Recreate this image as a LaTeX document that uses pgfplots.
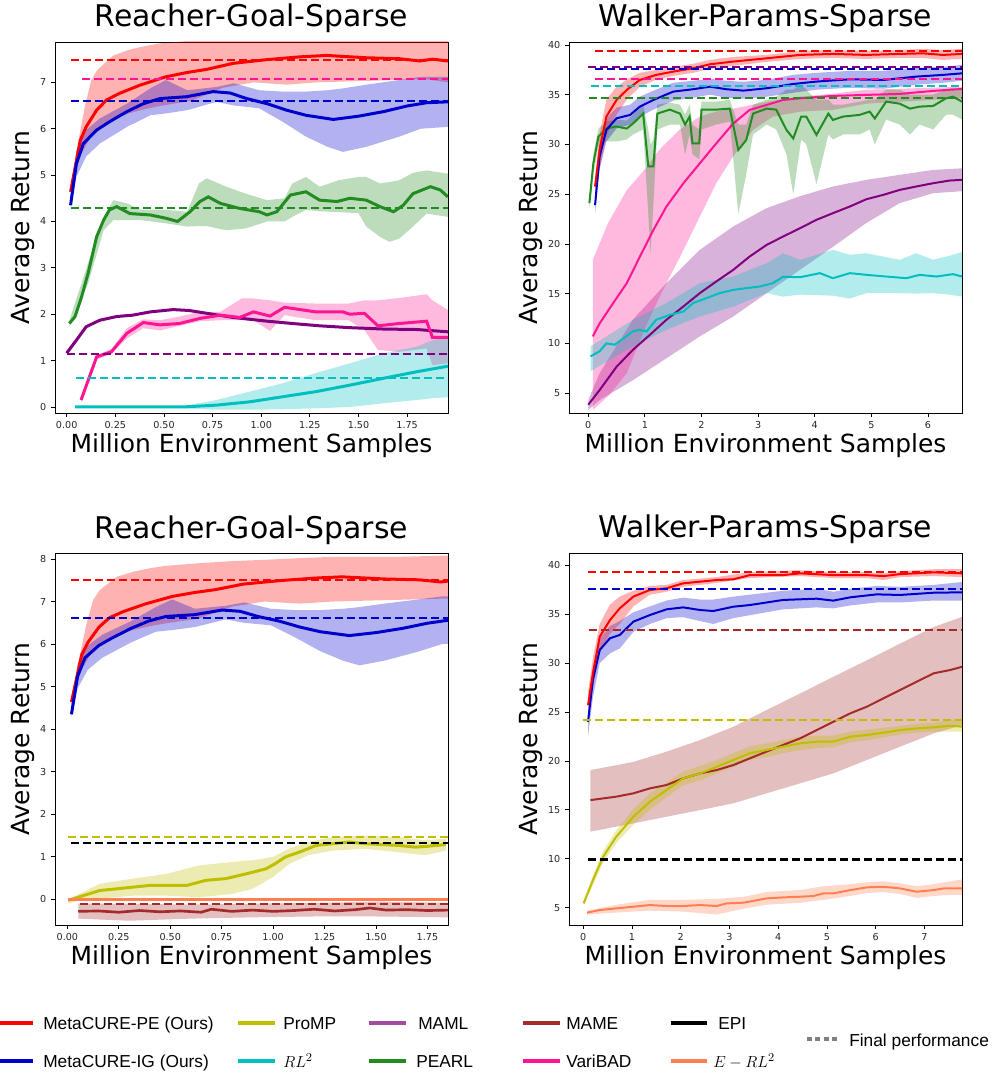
\documentclass[border=0pt]{standalone}
\usepackage{pgfplots}
\pgfplotsset{compat=1.18}
\usepackage{pgfplotstable}
\usepgfplotslibrary{fillbetween}
\usepackage{fontspec}
\setmainfont{DejaVu Sans}
\newfontfamily\legfont{Liberation Sans}

\definecolor{cred}{rgb}{1,0,0}
\definecolor{cblue}{HTML}{0000CD}
\definecolor{cgreen}{HTML}{228B22}
\definecolor{cpurple}{HTML}{800080}
\definecolor{cpink}{HTML}{FF1493}
\definecolor{ccyan}{HTML}{00BFBF}
\definecolor{cyel}{HTML}{BFBF00}
\definecolor{cbrown}{HTML}{A52A2A}
\definecolor{ccoral}{HTML}{FF7F50}
\definecolor{cmaml}{HTML}{A04DA0}

% ---------------- Reacher (shared MetaCURE curves) ----------------
\pgfplotstableread{
x y
0.02 4.64
0.05 5.3
0.07 5.75
0.10 6.04
0.154 6.4
0.205 6.62
0.27 6.76
0.377 6.94
0.51 7.12
0.616 7.21
0.72 7.28
0.856 7.41
1.03 7.49
1.2 7.55
1.335 7.58
1.54 7.53
1.71 7.51
1.815 7.46
1.88 7.5
1.96 7.46
}\rgRed
\pgfplotstableread{
x lo hi
0.02 4.55 4.75
0.05 5.1 5.5
0.07 5.4 5.95
0.094 5.6 6.49
0.126 5.85 7.04
0.158 6.0 7.27
0.24 6.2 7.58
0.32 6.33 7.7
0.4 6.42 7.78
0.48 6.49 7.84
0.64 6.6 7.9
0.8 6.88 7.95
0.96 7.0 7.98
1.13 6.95 8.02
1.29 7.0 8.05
1.61 7.04 8.05
1.84 7.07 8.08
1.96 7.0 8.08
}\rgRedB
\pgfplotstableread{
x y
0.02 4.35
0.05 5.25
0.086 5.68
0.154 5.97
0.22 6.15
0.31 6.37
0.394 6.54
0.48 6.65
0.616 6.69
0.753 6.8
0.84 6.77
0.925 6.65
1.03 6.54
1.13 6.4
1.23 6.29
1.37 6.2
1.5 6.27
1.63 6.37
1.75 6.49
1.85 6.56
1.96 6.58
}\rgBlue
\pgfplotstableread{
x lo hi
0.02 4.3 4.45
0.05 4.96 5.54
0.1 5.4 5.97
0.17 5.68 6.22
0.31 6.04 6.54
0.43 6.29 6.87
0.51 6.33 7.05
0.62 6.4 6.83
0.77 6.58 6.9
0.86 6.5 6.98
0.99 6.44 6.83
1.11 6.15 6.8
1.23 5.83 6.8
1.34 5.61 6.83
1.42 5.5 6.87
1.54 5.61 6.95
1.71 5.83 7.05
1.82 6.0 7.12
1.96 6.04 7.12
}\rgBlueB
% PEARL
\pgfplotstableread{
x y
0.014 1.8
0.043 1.95
0.077 2.38
0.11 2.88
0.154 3.67
0.19 4.03
0.22 4.25
0.257 4.32
0.325 4.17
0.43 4.14
0.51 4.07
0.57 4.0
0.634 4.21
0.685 4.43
0.728 4.53
0.79 4.39
0.89 4.28
0.99 4.21
1.03 4.14
1.08 4.21
1.15 4.57
1.23 4.64
1.3 4.46
1.39 4.43
1.455 4.5
1.54 4.46
1.61 4.32
1.68 4.21
1.73 4.35
1.78 4.6
1.87 4.75
1.92 4.68
1.96 4.53
}\rgGreen
\pgfplotstableread{
x lo hi
0.014 1.73 1.87
0.11 2.66 3.1
0.19 3.81 4.1
0.24 4.03 4.46
0.31 4.03 4.39
0.38 4.03 4.25
0.51 3.96 4.25
0.62 3.89 4.21
0.68 3.9 4.82
0.72 3.9 4.93
0.82 3.81 4.75
0.92 3.85 4.6
1.03 4.0 4.46
1.12 4.0 4.5
1.16 4.1 4.82
1.23 4.25 4.96
1.3 4.22 4.75
1.4 4.2 4.89
1.5 4.18 4.96
1.54 3.89 4.96
1.61 3.67 4.82
1.66 3.56 4.85
1.71 3.63 4.89
1.78 3.89 5.05
1.85 4.17 5.1
1.96 4.1 5.03
}\rgGreenB
% MAML
\pgfplotstableread{
x y
0.0 1.16
0.05 1.44
0.1 1.73
0.17 1.87
0.257 1.95
0.34 1.98
0.43 2.05
0.548 2.1
0.63 2.08
0.72 2.02
0.856 1.93
1.03 1.85
1.16 1.8
1.3 1.75
1.455 1.71
1.63 1.68
1.8 1.67
1.96 1.62
}\rgPurple
% VariBAD
\pgfplotstableread{
x y
0.074 0.15
0.154 1.08
0.23 1.19
0.31 1.59
0.394 1.82
0.48 1.77
0.58 1.8
0.685 1.91
0.79 1.98
0.89 1.93
0.96 2.05
1.045 1.96
1.12 2.15
1.28 2.05
1.42 2.05
1.455 2.0
1.53 2.02
1.6 1.75
1.71 1.8
1.85 1.85
1.88 1.5
1.96 1.5
}\rgPink
\pgfplotstableread{
x lo hi
0.074 0.1 0.2
0.154 1.02 1.12
0.23 1.15 1.25
0.31 1.48 1.7
0.394 1.7 1.89
0.48 1.65 1.87
0.58 1.75 1.95
0.685 1.85 2.05
0.79 1.87 2.05
0.9 1.87 2.34
0.96 1.87 2.34
1.045 1.64 2.3
1.12 1.98 2.25
1.28 1.87 2.23
1.45 1.87 2.23
1.53 1.66 2.3
1.6 1.23 2.3
1.71 1.19 2.35
1.85 1.26 2.43
1.88 0.9 2.3
1.96 0.94 2.09
}\rgPinkB
% RL2
\pgfplotstableread{
x y
0.043 0.0
0.3 0.0
0.6 0.0
0.77 0.04
0.94 0.11
1.11 0.22
1.28 0.33
1.455 0.47
1.63 0.62
1.8 0.76
1.96 0.88
}\rgCyan
\pgfplotstableread{
x lo hi
0.043 -0.02 0.02
0.6 -0.03 0.02
0.77 -0.06 0.15
0.94 -0.06 0.33
1.11 -0.05 0.51
1.28 -0.03 0.73
1.455 0.0 0.94
1.63 0.08 1.16
1.8 0.15 1.3
1.88 0.19 1.44
1.96 0.21 1.52
}\rgCyanB
% ProMP (Reacher)
\pgfplotstableread{
x y
0.005 -0.02
0.077 0.09
0.158 0.21
0.24 0.25
0.32 0.29
0.4 0.33
0.48 0.33
0.58 0.33
0.674 0.45
0.77 0.49
0.868 0.6
0.965 0.72
1.01 0.84
1.06 1.0
1.126 1.11
1.21 1.27
1.29 1.31
1.37 1.35
1.45 1.31
1.53 1.29
1.61 1.27
1.69 1.23
1.75 1.25
1.84 1.29
}\rgYel
\pgfplotstableread{
x lo hi
0.005 -0.1 0.02
0.077 0.02 0.17
0.158 0.02 0.37
0.32 0.09 0.49
0.48 0.09 0.6
0.64 0.05 0.8
0.8 0.13 0.88
0.9 0.25 0.92
1.0 0.53 1.0
1.08 0.84 1.2
1.17 1.04 1.35
1.29 1.15 1.47
1.45 1.19 1.5
1.61 1.11 1.47
1.74 1.04 1.39
1.84 1.15 1.43
}\rgYelB
% MAME (Reacher)
\pgfplotstableread{
x y
0.053 -0.28
0.15 -0.27
0.25 -0.3
0.35 -0.26
0.45 -0.29
0.55 -0.27
0.65 -0.3
0.7 -0.23
0.8 -0.28
0.9 -0.25
1.0 -0.28
1.1 -0.26
1.2 -0.23
1.3 -0.27
1.4 -0.24
1.47 -0.2
1.55 -0.25
1.65 -0.24
1.75 -0.26
1.85 -0.25
}\rgBrown
\pgfplotstableread{
x lo hi
0.053 -0.45 -0.1
0.3 -0.5 -0.1
0.6 -0.45 -0.12
0.9 -0.42 -0.1
1.2 -0.4 -0.08
1.5 -0.4 -0.05
1.85 -0.42 -0.08
}\rgBrownB

% ---------------- Walker top ----------------
\pgfplotstableread{
x y
0.12 25.77
0.2 29.45
0.32 32.8
0.5 34.47
0.68 35.48
0.91 36.48
1.2 36.99
1.5 37.32
1.85 37.66
2.15 38.06
2.56 38.33
3.15 38.66
3.74 39.0
4.32 39.1
4.91 39.0
5.5 39.1
5.91 39.16
6.26 39.0
6.6 39.1
}\wkRed
\pgfplotstableread{
x lo hi
0.12 24.8 26.5
0.2 27.5 31.0
0.32 30.8 34.5
0.5 33.0 35.8
0.68 34.5 36.5
0.91 35.8 37.2
1.2 36.5 37.5
1.5 36.9 37.8
1.85 37.2 38.1
2.15 37.6 38.5
2.56 37.9 38.8
3.15 38.3 39.0
3.74 38.6 39.4
4.32 38.7 39.5
4.91 38.6 39.4
5.5 38.7 39.5
5.91 38.7 39.6
6.26 38.5 39.5
6.6 38.6 39.6
}\wkRedB
\pgfplotstableread{
x y
0.12 23.9
0.2 28.78
0.32 31.46
0.5 32.63
0.74 32.97
0.91 33.8
1.15 34.47
1.5 35.31
1.85 35.55
2.15 35.81
2.44 35.55
2.74 35.41
3.15 35.65
3.62 36.08
4.03 36.32
4.62 36.55
5.21 36.48
5.79 36.82
6.26 36.99
6.6 37.15
}\wkBlue
\pgfplotstableread{
x lo hi
0.12 23.0 24.8
0.2 27.5 30.0
0.32 30.3 32.6
0.5 31.6 33.7
0.74 32.0 34.0
0.91 32.8 34.8
1.15 33.5 35.4
1.5 34.4 36.2
1.85 34.7 36.4
2.15 35.0 36.6
2.44 34.7 36.4
2.74 34.6 36.3
3.15 34.8 36.5
3.62 35.2 37.0
4.03 35.5 37.2
4.62 35.7 37.4
5.21 35.6 37.4
5.79 36.0 37.7
6.26 36.2 37.8
6.6 36.4 38.0
}\wkBlueB
\pgfplotstableread{
x y
0.02 24.1
0.09 28.1
0.18 30.8
0.32 31.6
0.5 31.8
0.68 31.6
0.79 32.1
0.97 33.1
1.06 27.8
1.15 27.8
1.22 33.1
1.44 33.5
1.62 33.1
1.71 32.0
1.79 32.8
1.84 30.1
1.96 30.1
2.0 33.5
2.26 33.5
2.5 33.6
2.65 29.45
2.79 30.45
2.91 33.1
3.15 33.6
3.32 33.5
3.5 31.46
3.62 30.6
3.76 32.8
3.85 32.8
4.03 30.96
4.24 33.1
4.32 32.46
4.5 32.8
4.79 32.97
4.97 33.3
5.06 32.6
5.26 34.3
5.5 34.1
5.68 33.6
5.85 33.8
6.09 33.87
6.32 34.64
6.44 34.8
6.6 34.3
}\wkGreen
\pgfplotstableread{
x lo hi
0.02 23.5 24.6
0.09 27.0 29.0
0.18 29.8 31.6
0.32 30.3 32.3
0.5 30.3 32.5
0.68 30.5 32.4
0.79 31.0 33.0
0.97 31.5 34.0
1.06 23.0 31.5
1.1 19.0 30.0
1.15 24.0 30.5
1.22 31.5 34.0
1.44 32.0 34.2
1.62 32.0 34.0
1.71 29.0 33.0
1.79 31.0 34.0
1.84 29.0 32.0
1.96 28.5 31.5
2.0 31.5 34.3
2.26 32.0 34.3
2.5 32.3 34.5
2.65 23.0 32.0
2.79 27.0 32.0
2.91 31.0 34.0
3.15 32.0 34.5
3.32 31.5 34.8
3.5 29.0 35.5
3.62 25.0 35.5
3.76 30.5 36.0
3.85 30.0 35.5
4.03 26.0 34.5
4.24 31.0 34.5
4.32 30.5 34.0
4.5 31.0 34.0
4.79 31.0 34.3
4.97 31.5 34.5
5.06 30.0 34.5
5.26 32.5 35.5
5.5 32.0 35.5
5.68 31.0 35.0
5.85 32.0 35.0
6.09 31.5 35.0
6.32 33.0 35.5
6.44 33.0 35.7
6.6 32.5 35.5
}\wkGreenB
\pgfplotstableread{
x y
0.08 10.7
0.2 12.0
0.44 14.05
0.68 16.05
0.91 18.7
1.15 21.4
1.38 23.75
1.68 26.1
1.97 28.1
2.26 30.1
2.56 32.1
2.85 33.47
3.15 33.97
3.44 34.47
3.74 34.64
4.32 34.88
4.91 34.98
5.5 35.08
6.09 35.38
6.6 35.58
}\wkPink
\pgfplotstableread{
x lo hi
0.08 3.3 18.4
0.35 4.7 22.1
0.68 7.0 25.4
1.0 11.5 27.5
1.26 14.7 29.5
1.62 18.7 31.5
1.97 22.75 32.8
2.26 26.1 33.3
2.56 28.8 33.6
2.91 31.46 34.0
3.26 32.8 34.4
3.74 33.3 34.8
4.32 33.47 35.1
4.91 34.1 35.5
5.5 34.3 35.6
6.6 34.64 35.8
}\wkPinkB
\pgfplotstableread{
x y
0.0 3.83
0.2 5.3
0.5 7.65
0.79 9.36
1.09 10.87
1.38 12.37
1.68 13.71
1.97 15.05
2.26 16.22
2.56 17.39
2.85 18.73
3.15 19.9
3.44 20.74
3.74 21.58
4.03 22.42
4.32 23.09
4.62 23.76
4.91 24.49
5.21 24.93
5.5 25.43
5.79 25.77
6.09 26.1
6.38 26.37
6.6 26.44
}\wkPurple
\pgfplotstableread{
x lo hi
0.0 3.3 4.3
0.2 4.3 7.0
0.79 6.3 12.4
1.38 8.5 16.05
1.97 10.7 19.4
2.56 12.7 21.75
3.15 15.05 23.6
3.74 17.4 24.8
4.32 19.7 25.77
4.91 22.1 26.44
5.5 24.1 26.94
6.09 25.1 27.44
6.6 25.3 27.6
}\wkPurpleB
\pgfplotstableread{
x y
0.04 8.69
0.2 9.2
0.32 10.0
0.47 9.87
0.62 10.5
0.79 11.2
0.91 11.37
1.03 11.2
1.2 12.37
1.44 12.87
1.68 13.2
1.85 14.05
2.09 14.55
2.32 15.05
2.56 15.38
2.79 15.55
3.03 15.72
3.26 16.05
3.44 16.7
3.74 16.65
4.09 17.06
4.32 16.55
4.62 17.06
4.91 16.89
5.26 16.72
5.62 16.55
5.85 16.89
6.15 16.72
6.44 16.96
6.6 16.72
}\wkCyan
\pgfplotstableread{
x lo hi
0.04 7.2 9.7
0.79 9.7 12.37
1.38 11.37 14.05
1.97 12.7 16.05
2.56 13.7 16.72
3.15 15.05 18.06
3.44 14.7 19.06
3.74 14.9 18.4
4.32 14.8 19.4
4.62 14.5 18.9
4.91 15.05 19.06
5.5 15.05 18.4
5.79 15.0 19.06
6.09 15.05 18.4
6.38 14.9 18.8
6.6 14.7 19.2
}\wkCyanB

% ---------------- Walker bottom ----------------
\pgfplotstableread{
x y
0.1 25.7
0.2 28.96
0.34 32.7
0.55 34.4
0.75 35.6
1.03 36.8
1.37 37.48
1.71 37.65
2.05 38.16
2.4 38.33
2.74 38.5
3.08 38.57
3.42 39.0
4.1 39.0
4.45 39.18
5.13 39.0
5.82 39.0
6.16 38.9
6.5 39.1
7.19 39.28
7.78 39.18
}\wbRed
\pgfplotstableread{
x lo hi
0.1 24.8 27.0
0.2 27.5 30.5
0.34 31.0 34.0
0.55 33.0 36.0
0.75 34.0 36.8
1.03 35.8 37.4
1.37 37.0 37.9
1.71 37.3 38.0
2.05 37.8 38.5
2.74 38.2 38.8
3.42 38.7 39.3
4.45 38.9 39.5
5.13 38.7 39.3
5.82 38.7 39.3
6.16 38.5 39.2
6.5 38.8 39.4
7.19 38.9 39.6
7.78 38.8 39.6
}\wbRedB
\pgfplotstableread{
x y
0.1 24.0
0.2 28.3
0.34 31.35
0.55 32.54
0.75 32.88
0.89 33.56
1.03 34.24
1.37 34.92
1.71 35.5
2.05 35.7
2.4 35.43
2.67 35.33
3.08 35.77
3.42 35.94
4.1 36.46
4.79 36.59
5.13 36.39
5.48 36.73
6.02 37.03
6.5 36.97
7.19 37.2
7.78 37.24
}\wbBlue
\pgfplotstableread{
x lo hi
0.1 22.5 25
0.2 26.5 29.5
0.34 30.0 32.5
0.55 31.0 33.8
0.75 31.5 34.3
1.03 33.2 35.2
1.37 34.0 35.8
1.71 34.6 36.4
2.05 34.7 36.7
2.4 34.3 36.5
2.67 34.0 36.5
3.08 34.6 36.8
3.42 34.9 37.0
4.1 35.5 37.4
4.79 35.7 37.6
5.13 35.6 37.3
5.48 35.9 37.6
6.02 36.2 37.9
6.5 36.2 37.8
7.19 36.4 38.0
7.78 36.4 38.3
}\wbBlueB
\pgfplotstableread{
x y
0.01 5.44
0.2 7.8
0.41 10.2
0.68 12.26
1.03 14.3
1.37 15.84
1.71 17.03
2.05 18.22
2.4 18.73
2.74 19.41
3.08 20.1
3.42 20.78
3.76 21.12
4.1 21.46
4.45 21.8
4.79 21.97
5.13 21.97
5.48 22.48
5.82 22.65
6.16 22.89
6.5 23.16
6.84 23.33
7.19 23.44
7.53 23.6
7.78 23.5
}\wbYel
\pgfplotstableread{
x lo hi
0.01 5.2 5.7
0.2 7.3 8.3
0.41 9.6 10.8
0.68 11.6 12.9
1.03 13.5 15.1
1.37 15.0 16.7
1.71 16.3 17.8
2.05 17.5 18.9
2.4 18.0 19.5
2.74 18.7 20.1
3.08 19.4 20.8
3.42 20.1 21.5
3.76 20.4 21.8
4.1 20.8 22.1
4.45 21.1 22.5
4.79 21.3 22.6
5.13 21.4 22.6
5.48 21.9 23.0
5.82 22.1 23.2
6.16 22.4 23.4
6.5 22.7 23.6
6.84 22.9 23.8
7.19 23.0 23.9
7.53 23.0 24.2
7.78 23.0 24.3
}\wbYelB
\pgfplotstableread{
x y
0.15 16.0
0.68 16.35
1.03 16.69
1.37 17.2
1.71 17.54
2.05 18.22
2.4 18.73
2.74 19.07
3.08 19.58
3.42 20.27
3.76 20.95
4.1 21.63
4.45 22.31
4.79 23.16
5.13 24.0
5.48 24.87
5.82 25.55
6.16 26.4
6.5 27.25
6.84 28.1
7.19 28.96
7.53 29.3
7.78 29.64
}\wbBrown
\pgfplotstableread{
x lo hi
0.15 12.77 19.07
1.03 13.62 19.9
1.71 14.3 20.95
2.4 14.98 22.14
3.08 15.67 23.5
3.76 16.69 25.2
4.45 17.71 26.9
5.13 18.73 28.6
5.82 20.1 30.3
6.5 21.46 32.0
7.19 22.82 33.7
7.78 23.67 34.75
}\wbBrownB
\pgfplotstableread{
x y
0.08 4.49
0.34 4.76
0.68 4.93
1.03 5.1
1.37 5.27
1.71 5.17
2.05 5.17
2.4 5.27
2.74 5.17
2.94 5.44
3.29 5.51
3.76 5.95
4.1 6.05
4.45 6.12
4.72 6.19
4.93 6.46
5.13 6.46
5.48 6.8
5.82 7.08
6.16 7.14
6.5 6.97
6.84 6.63
7.19 6.8
7.39 6.97
7.78 6.97
}\wbCoral
\pgfplotstableread{
x lo hi
0.08 4.3 4.7
0.68 4.5 5.3
1.37 4.7 5.8
2.05 4.6 5.8
2.74 4.3 5.9
3.29 4.9 6.1
3.76 5.3 6.6
4.45 5.5 6.8
4.93 5.8 7.2
5.48 6.2 7.4
5.82 6.5 7.6
6.16 6.6 7.7
6.5 6.4 7.5
6.84 6.0 7.2
7.19 6.2 7.4
7.53 6.3 7.7
7.78 6.3 7.9
}\wbCoralB

\newcommand{\band}[3]{%
 \addplot[draw=none, name path=bu#3, forget plot] table[x=x,y=hi]{#1};
 \addplot[draw=none, name path=bl#3, forget plot] table[x=x,y=lo]{#1};
 \addplot[fill=#2, fill opacity=0.3, draw=none, forget plot] fill between[of=bu#3 and bl#3];
}
\newcommand{\hl}[5]{\addplot[#1, line width=#5, dash pattern=on 6pt off 3pt, forget plot] coordinates {(#2,#4) (#3,#4)};}

\pgfplotsset{
 myax/.style={
  scale only axis, anchor=south west, width=294.75pt,
  axis line style={line width=0.6pt},
  tick align=outside, major tick length=3pt,
  every tick/.style={black, line width=0.6pt},
  tick pos=left,
  tick label style={font=\fontsize{7.2}{8.5}\selectfont, text=black!85},
  title style={font=\fontsize{22.4}{26}\selectfont, at={(axis description cs:0.5,1)}, anchor=base, yshift=5.25pt},
  xlabel style={font=\fontsize{18.7}{22}\selectfont, at={(axis description cs:0.5,0)}, anchor=base, yshift=-30pt},
  ylabel style={font=\fontsize{18.7}{22}\selectfont, anchor=base},
  xlabel={Million Environment Samples},
  ylabel={Average Return},
 },
 reacher/.style={myax, xmin=-0.06,
  xtick={0,0.25,0.5,0.75,1,1.25,1.5,1.75},
  xticklabels={0.00,0.25,0.50,0.75,1.00,1.25,1.50,1.75},
  title={Reacher-Goal-Sparse},
  ylabel style={at={(axis description cs:-0.064,0.5)}}},
 walker/.style={myax,
  ytick={5,10,15,20,25,30,35,40}, yticklabels={5,10,15,20,25,30,35,40},
  title={Walker-Params-Sparse},
  ylabel style={at={(axis description cs:-0.079,0.5)}}},
}

\begin{document}
\begin{tikzpicture}

% ===== Top-left =====
\begin{axis}[reacher, at={(41.25pt,494.25pt)}, height=278.25pt,
  xmax=1.96, ymin=-0.13, ymax=7.87,
  ytick={0,1,2,3,4,5,6,7}, yticklabels={0,1,2,3,4,5,6,7}]
\band{\rgRedB}{cred}{a}
\band{\rgBlueB}{cblue}{b}
\band{\rgGreenB}{cgreen}{c}
\band{\rgPinkB}{cpink}{d}
\band{\rgCyanB}{ccyan}{e}
\addplot[cred, line width=2.25pt] table[x=x,y=y]{\rgRed};
\addplot[cblue, line width=2.25pt] table[x=x,y=y]{\rgBlue};
\addplot[cgreen, line width=2.25pt] table[x=x,y=y]{\rgGreen};
\addplot[cpurple, line width=2.25pt] table[x=x,y=y]{\rgPurple};
\addplot[cpink, line width=2.25pt] table[x=x,y=y]{\rgPink};
\addplot[ccyan, line width=2.25pt] table[x=x,y=y]{\rgCyan};
\hl{cred}{0.02}{1.96}{7.48}{1.5pt}
\hl{cpink}{0.08}{1.96}{7.08}{1.5pt}
\hl{cblue}{0.02}{1.96}{6.6}{1.5pt}
\hl{cgreen}{0.02}{1.96}{4.3}{1.5pt}
\hl{cpurple}{0.0}{1.96}{1.14}{1.5pt}
\hl{ccyan}{0.05}{1.96}{0.62}{1.5pt}
\end{axis}

% ===== Top-right =====
\begin{axis}[walker, at={(426.75pt,494.25pt)}, height=278.25pt,
  xmin=-0.34, xmax=6.6, ymin=3.0, ymax=40.3,
  xtick={0,1,2,3,4,5,6}, xticklabels={0,1,2,3,4,5,6}]
\band{\wkPurpleB}{cpurple}{a}
\band{\wkPinkB}{cpink}{b}
\band{\wkGreenB}{cgreen}{c}
\band{\wkCyanB}{ccyan}{d}
\band{\wkBlueB}{cblue}{e}
\band{\wkRedB}{cred}{f}
\addplot[cpurple, line width=1.5pt] table[x=x,y=y]{\wkPurple};
\addplot[ccyan, line width=1.5pt] table[x=x,y=y]{\wkCyan};
\addplot[cpink, line width=1.5pt] table[x=x,y=y]{\wkPink};
\addplot[cgreen, line width=1.5pt] table[x=x,y=y]{\wkGreen};
\addplot[cblue, line width=1.5pt] table[x=x,y=y]{\wkBlue};
\addplot[cred, line width=1.5pt] table[x=x,y=y]{\wkRed};
\hl{cred}{0.12}{6.6}{39.4}{1.5pt}
\hl{cpurple}{0.0}{6.6}{37.78}{1.5pt}
\hl{cblue}{0.12}{6.6}{37.6}{1.5pt}
\hl{cpink}{0.12}{6.6}{36.58}{1.5pt}
\hl{ccyan}{0.04}{6.6}{35.9}{1.5pt}
\hl{cgreen}{0.02}{6.6}{34.7}{1.5pt}
\end{axis}

% ===== Bottom-left =====
\begin{axis}[reacher, at={(41.25pt,110.25pt)}, height=279pt,
  xmax=1.85, ymin=-0.6, ymax=8.14,
  ytick={0,1,2,3,4,5,6,7,8}, yticklabels={0,1,2,3,4,5,6,7,8}]
\band{\rgRedB}{cred}{a}
\band{\rgBlueB}{cblue}{b}
\band{\rgYelB}{cyel}{c}
\band{\rgBrownB}{cbrown}{d}
\addplot[cred, line width=2.25pt] table[x=x,y=y]{\rgRed};
\addplot[cblue, line width=2.25pt] table[x=x,y=y]{\rgBlue};
\addplot[cyel, line width=2.25pt] table[x=x,y=y]{\rgYel};
\addplot[cbrown, line width=2pt] table[x=x,y=y]{\rgBrown};
\addplot[ccoral, line width=2.5pt] coordinates {(0.005,0) (1.85,0)};
\hl{cred}{0.02}{1.85}{7.5}{1.5pt}
\hl{cblue}{0.02}{1.85}{6.62}{1.5pt}
\hl{cyel}{0.005}{1.85}{1.47}{1.5pt}
\hl{black}{0.02}{1.85}{1.32}{1.5pt}
\hl{cbrown}{0.06}{1.85}{-0.1}{1.5pt}
\end{axis}

% ===== Bottom-right =====
\begin{axis}[walker, at={(426.75pt,110.25pt)}, height=279pt,
  xmin=-0.29, xmax=7.77, ymin=3.23, ymax=41.26,
  xtick={0,1,2,3,4,5,6,7}, xticklabels={0,1,2,3,4,5,6,7}]
\band{\wbBrownB}{cbrown}{a}
\band{\wbYelB}{cyel}{b}
\band{\wbCoralB}{ccoral}{c}
\band{\wbBlueB}{cblue}{d}
\band{\wbRedB}{cred}{e}
\addplot[cbrown, line width=1.5pt] table[x=x,y=y]{\wbBrown};
\addplot[cyel, line width=1.5pt] table[x=x,y=y]{\wbYel};
\addplot[ccoral, line width=1.5pt] table[x=x,y=y]{\wbCoral};
\addplot[cblue, line width=1.5pt] table[x=x,y=y]{\wbBlue};
\addplot[cred, line width=1.5pt] table[x=x,y=y]{\wbRed};
\hl{cred}{0.1}{7.77}{39.32}{1.5pt}
\hl{cblue}{0.1}{7.77}{37.58}{1.5pt}
\hl{cbrown}{0.13}{7.77}{33.39}{1.5pt}
\hl{cyel}{0.0}{7.77}{24.19}{1.5pt}
\hl{black}{0.1}{7.77}{9.94}{2pt}
\end{axis}

% ===== Legend =====
\begin{scope}[every node/.style={inner sep=0pt, anchor=base west, font=\legfont\fontsize{13}{15}\selectfont}]
\draw[cred, line width=3.5pt] (0pt,36.75pt) -- (24.75pt,36.75pt);
\node at (32.25pt,31.5pt) {MetaCURE-PE (Ours)};
\draw[cblue, line width=3.5pt] (0pt,8.25pt) -- (24.75pt,8.25pt);
\node at (32.25pt,3.75pt) {MetaCURE-IG (Ours)};
\draw[cyel, line width=3.5pt] (178.5pt,36.75pt) -- (206.25pt,36.75pt);
\node at (212.25pt,31.5pt) {ProMP};
\draw[ccyan, line width=3.5pt] (178.5pt,8.25pt) -- (206.25pt,8.25pt);
\node at (212.25pt,3.75pt) {$RL^2$};
\draw[cmaml, line width=3.5pt] (276.75pt,36.75pt) -- (304.5pt,36.75pt);
\node at (313.5pt,31.5pt) {MAML};
\draw[cgreen, line width=3.5pt] (276.75pt,8.25pt) -- (304.5pt,8.25pt);
\node at (312pt,3.75pt) {PEARL};
\draw[cbrown, line width=3.5pt] (392.25pt,36.75pt) -- (420pt,36.75pt);
\node at (424.5pt,31.5pt) {MAME};
\draw[cpink, line width=3.5pt] (392.25pt,8.25pt) -- (420pt,8.25pt);
\node at (424.5pt,3.75pt) {VariBAD};
\draw[black, line width=3.5pt] (503.25pt,36.75pt) -- (530.25pt,36.75pt);
\node at (538.5pt,31.5pt) {EPI};
\draw[ccoral, line width=3.5pt] (503.25pt,8.25pt) -- (530.25pt,8.25pt);
\node at (534.75pt,3.75pt) {$E-RL^2$};
\draw[gray, line width=3pt, dash pattern=on 3.75pt off 2.5pt] (605.25pt,24.75pt) -- (630pt,24.75pt);
\node at (636.75pt,19.5pt) {Final performance};
\end{scope}
\pgfresetboundingbox
\path[use as bounding box] (0,0) rectangle (744pt,804pt);
\end{tikzpicture}
\end{document}
